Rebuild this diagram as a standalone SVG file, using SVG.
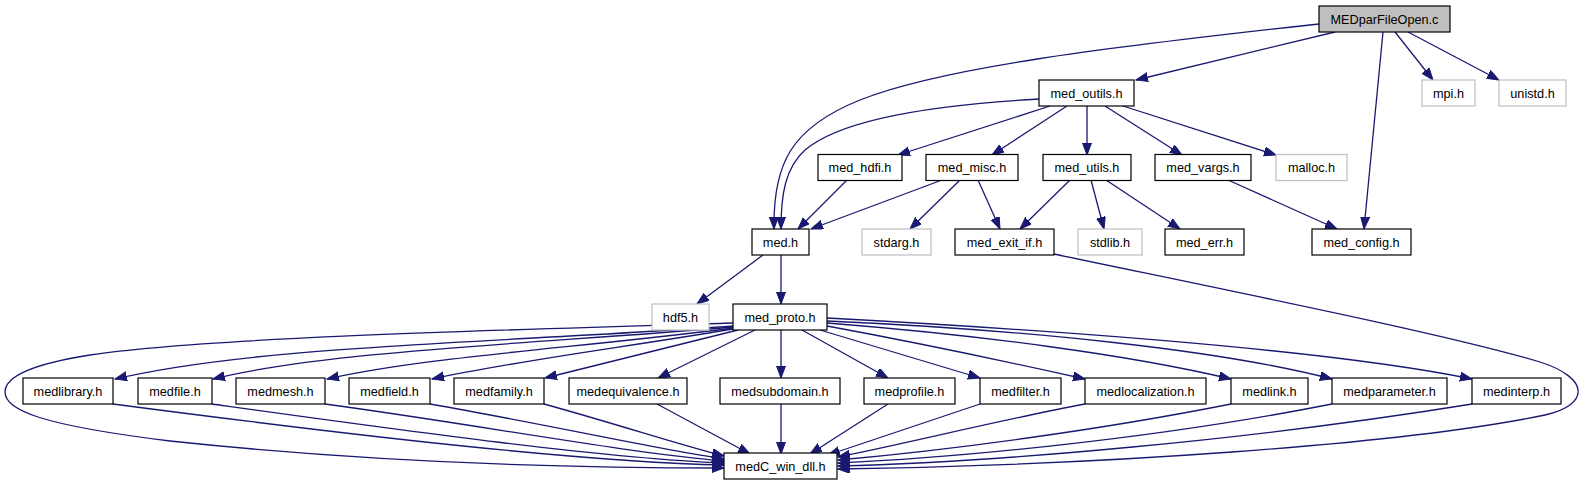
<svg xmlns="http://www.w3.org/2000/svg" width="1585" height="485" viewBox="0 0 1585 485">
<style>
.n rect{fill:#fff;stroke:#000;stroke-width:1.2}
.g rect{fill:#fff;stroke:#bfbfbf;stroke-width:1.2}
.r rect{fill:#bfbfbf;stroke:#000;stroke-width:1.2}
text{font-family:"Liberation Sans",Arial,Helvetica,sans-serif;font-size:12.7px;fill:#000;text-anchor:middle}
#edges path{fill:none;stroke:#191970;stroke-width:1.3;marker-end:url(#a)}
</style>
<defs>
<marker id="a" markerWidth="13" markerHeight="10" refX="12" refY="4.5" orient="auto" markerUnits="userSpaceOnUse">
<path d="M0,0 L12,4.5 L0,9 z" fill="#191970" stroke="#191970" stroke-width="1"/>
</marker>
</defs>
<rect width="1585" height="485" fill="#fff"/>
<g id="edges">
<path d="M1319,24 C1100,48 940,68 860,100 C790,128 773,165 774,229"/>
<path d="M1335,32 L1136,80"/>
<path d="M1383,32 L1364,229"/>
<path d="M1395,32 L1433,80"/>
<path d="M1408,32 L1499,80"/>
<path d="M1039,99 C930,105 840,120 805,150 C785,168 781,195 781,229"/>
<path d="M1050,106 L898,155"/>
<path d="M1067,106 L992,155"/>
<path d="M1087,106 L1087,155"/>
<path d="M1105,106 L1182,155"/>
<path d="M1123,106 L1276,155"/>
<path d="M847,180 L798,229"/>
<path d="M942,180 L811,229"/>
<path d="M960,180 L910,229"/>
<path d="M978,180 L1000,229"/>
<path d="M1070,180 L1020,229"/>
<path d="M1091,180 L1104,229"/>
<path d="M1106,180 L1180,229"/>
<path d="M1228,180 L1337,229"/>
<path d="M763,255 L697,304"/>
<path d="M781,255 L781,304"/>
<path d="M1054,254 C1250,295 1450,335 1540,362 C1590,378 1590,405 1545,415 C1400,445 1100,465 838,469"/>
<path d="M733,323 C500,330 200,338 90,355 C20,366 5,380 5,392 C5,410 40,425 170,441 C330,458 520,468 724,468"/>
<path d="M733,326 C500,343 260,345 115,379"/>
<path d="M733,327 C550,343 330,350 213,379"/>
<path d="M733,328 C580,348 430,356 327,379"/>
<path d="M733,329 C620,348 520,360 432,379"/>
<path d="M738,330 L545,378"/>
<path d="M755,330 L658,378"/>
<path d="M781,330 L781,378"/>
<path d="M802,330 L888,378"/>
<path d="M820,330 L980,378"/>
<path d="M827,326 C930,345 1000,360 1085,379"/>
<path d="M827,323 C980,335 1130,355 1231,379"/>
<path d="M827,321 C1030,330 1220,350 1332,379"/>
<path d="M827,318 C1050,330 1330,350 1472,379"/>
<path d="M113,404 C350,435 580,462 724,465"/>
<path d="M212,404 C400,430 600,458 724,463"/>
<path d="M325,404 C480,425 620,452 724,461"/>
<path d="M430,404 C550,425 650,448 724,459"/>
<path d="M544,404 C620,425 680,445 724,456"/>
<path d="M657,404 L750,454"/>
<path d="M781,404 L781,454"/>
<path d="M888,404 L810,454"/>
<path d="M980,404 L828,455"/>
<path d="M1085,404 C1000,420 900,445 838,457"/>
<path d="M1231,404 C1100,430 950,450 838,460"/>
<path d="M1332,404 C1150,440 950,458 838,463"/>
<path d="M1472,404 C1250,440 1000,462 838,466"/>
</g>
<g id="n_MEDparFileOpen" class="r"><rect x="1319" y="6" width="131" height="26"/><text x="1384.5" y="23.5">MEDparFileOpen.c</text></g>
<g id="n_med_outils" class="n"><rect x="1039" y="80" width="95" height="26"/><text x="1086.5" y="97.5">med_outils.h</text></g>
<g id="n_mpi" class="g"><rect x="1422" y="80" width="53" height="26"/><text x="1448.5" y="97.5">mpi.h</text></g>
<g id="n_unistd" class="g"><rect x="1499" y="80" width="67" height="26"/><text x="1532.5" y="97.5">unistd.h</text></g>
<g id="n_med_hdfi" class="n"><rect x="818" y="154.5" width="84" height="26"/><text x="860" y="172">med_hdfi.h</text></g>
<g id="n_med_misc" class="n"><rect x="926" y="154.5" width="92" height="26"/><text x="972" y="172">med_misc.h</text></g>
<g id="n_med_utils" class="n"><rect x="1043" y="154.5" width="88" height="26"/><text x="1087" y="172">med_utils.h</text></g>
<g id="n_med_vargs" class="n"><rect x="1155" y="154.5" width="96" height="26"/><text x="1203" y="172">med_vargs.h</text></g>
<g id="n_malloc" class="g"><rect x="1276" y="154.5" width="71" height="26"/><text x="1311.5" y="172">malloc.h</text></g>
<g id="n_med" class="n"><rect x="752" y="229" width="57" height="26"/><text x="780.5" y="246.5">med.h</text></g>
<g id="n_stdarg" class="g"><rect x="862" y="229" width="69" height="26"/><text x="896.5" y="246.5">stdarg.h</text></g>
<g id="n_med_exit_if" class="n"><rect x="955" y="229" width="99" height="26"/><text x="1004.5" y="246.5">med_exit_if.h</text></g>
<g id="n_stdlib" class="g"><rect x="1078" y="229" width="64" height="26"/><text x="1110" y="246.5">stdlib.h</text></g>
<g id="n_med_err" class="n"><rect x="1165" y="229" width="79" height="26"/><text x="1204.5" y="246.5">med_err.h</text></g>
<g id="n_med_config" class="n"><rect x="1312" y="229" width="99" height="26"/><text x="1361.5" y="246.5">med_config.h</text></g>
<g id="n_hdf5" class="g"><rect x="652" y="304" width="57" height="26"/><text x="680.5" y="321.5">hdf5.h</text></g>
<g id="n_med_proto" class="n"><rect x="733" y="304" width="94" height="26"/><text x="780" y="321.5">med_proto.h</text></g>
<g id="n_medlibrary" class="n"><rect x="23" y="378" width="90" height="26"/><text x="68" y="395.5">medlibrary.h</text></g>
<g id="n_medfile" class="n"><rect x="138" y="378" width="74" height="26"/><text x="175" y="395.5">medfile.h</text></g>
<g id="n_medmesh" class="n"><rect x="236" y="378" width="89" height="26"/><text x="280.5" y="395.5">medmesh.h</text></g>
<g id="n_medfield" class="n"><rect x="349" y="378" width="81" height="26"/><text x="389.5" y="395.5">medfield.h</text></g>
<g id="n_medfamily" class="n"><rect x="454" y="378" width="90" height="26"/><text x="499" y="395.5">medfamily.h</text></g>
<g id="n_medequivalence" class="n"><rect x="569" y="378" width="118" height="26"/><text x="628" y="395.5">medequivalence.h</text></g>
<g id="n_medsubdomain" class="n"><rect x="720" y="378" width="120" height="26"/><text x="780" y="395.5">medsubdomain.h</text></g>
<g id="n_medprofile" class="n"><rect x="864" y="378" width="91" height="26"/><text x="909.5" y="395.5">medprofile.h</text></g>
<g id="n_medfilter" class="n"><rect x="980" y="378" width="81" height="26"/><text x="1020.5" y="395.5">medfilter.h</text></g>
<g id="n_medlocalization" class="n"><rect x="1085" y="378" width="121" height="26"/><text x="1145.5" y="395.5">medlocalization.h</text></g>
<g id="n_medlink" class="n"><rect x="1231" y="378" width="77" height="26"/><text x="1269.5" y="395.5">medlink.h</text></g>
<g id="n_medparameter" class="n"><rect x="1332" y="378" width="115" height="26"/><text x="1389.5" y="395.5">medparameter.h</text></g>
<g id="n_medinterp" class="n"><rect x="1472" y="378" width="89" height="26"/><text x="1516.5" y="395.5">medinterp.h</text></g>
<g id="n_medC_win_dll" class="n"><rect x="724" y="453" width="113" height="26"/><text x="780.5" y="470.5">medC_win_dll.h</text></g>
</svg>
